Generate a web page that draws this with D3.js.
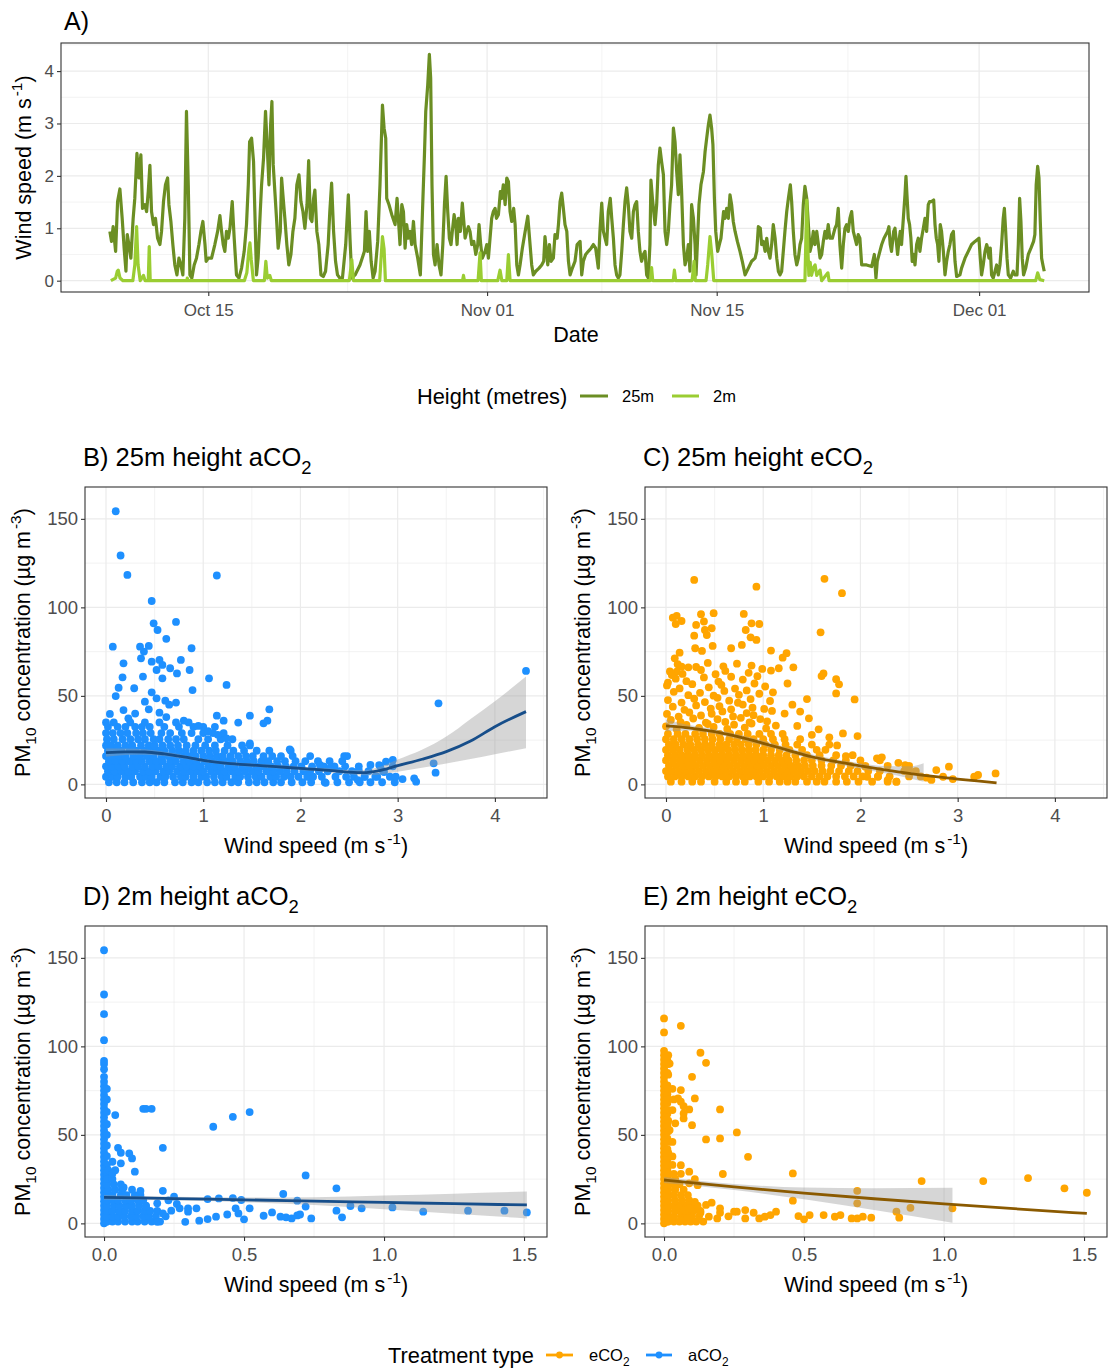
<!DOCTYPE html>
<html><head><meta charset="utf-8">
<script src="https://cdn.jsdelivr.net/npm/d3@7"></script>
<style>
body{margin:0;background:#fff;}
</style></head><body>
<svg id="chart" width="1108" height="1372"></svg>
<script>
// ---------- Panel A data: [days since Oct 01, wind speed m/s] ----------
const wind25m = [
[8.00,0.94],[8.10,0.75],[8.20,1.03],[8.35,0.56],[8.47,1.51],[8.61,1.75],[8.75,1.19],[8.87,0.62],[8.98,0.18],[9.06,0.88],[9.16,0.69],[9.28,0.43],[9.42,1.19],[9.52,1.57],[9.65,2.43],[9.77,1.96],[9.89,2.40],[9.99,1.38],[10.13,1.45],[10.24,1.32],[10.34,1.70],[10.44,2.20],[10.54,1.32],[10.66,1.07],[10.78,1.19],[10.91,0.81],[11.05,0.69],[11.15,0.94],[11.27,1.51],[11.39,1.83],[11.52,1.96],[11.60,1.45],[11.72,1.13],[11.84,0.69],[11.96,0.30],[12.09,0.11],[12.21,0.43],[12.33,0.30],[12.45,0.11],[12.57,1.19],[12.67,3.23],[12.78,1.83],[12.88,0.11],[13.00,0.05],[13.14,0.30],[13.28,0.43],[13.43,0.69],[13.55,0.94],[13.67,1.13],[13.80,0.69],[13.87,0.37],[14.00,0.43],[14.20,0.43],[14.40,0.69],[14.57,0.94],[14.71,1.24],[14.81,0.94],[14.91,0.69],[15.01,0.56],[15.11,0.94],[15.22,0.81],[15.32,1.00],[15.46,1.51],[15.58,0.81],[15.72,0.11],[15.87,0.05],[16.03,0.24],[16.19,0.56],[16.33,1.07],[16.44,1.83],[16.52,2.65],[16.64,2.72],[16.76,2.27],[16.84,1.32],[16.94,0.11],[17.04,0.43],[17.17,1.32],[17.25,1.83],[17.37,2.34],[17.49,3.23],[17.59,2.59],[17.70,1.83],[17.80,2.97],[17.88,3.42],[17.96,2.21],[18.06,1.70],[18.16,1.19],[18.26,0.62],[18.39,0.94],[18.47,1.96],[18.55,1.64],[18.67,1.19],[18.79,0.69],[18.91,0.30],[19.04,0.50],[19.16,0.94],[19.28,1.19],[19.40,1.83],[19.53,2.02],[19.65,1.51],[19.77,1.32],[19.89,1.00],[20.02,1.45],[20.12,2.29],[20.22,1.19],[20.32,1.13],[20.42,1.57],[20.50,1.73],[20.62,0.94],[20.74,0.69],[20.87,0.11],[21.01,0.08],[21.15,0.18],[21.31,0.69],[21.41,1.32],[21.52,1.86],[21.64,0.94],[21.76,0.37],[21.88,0.11],[22.02,0.05],
[22.18,0.05],[22.38,0.69],[22.54,1.64],[22.64,0.81],[22.75,0.05],[22.95,0.11],[23.25,0.30],[23.52,0.56],[23.62,1.32],[23.72,0.56],[23.82,0.94],[23.93,0.37],[24.05,0.05],[24.17,0.18],[24.33,0.75],[24.47,1.83],[24.62,3.35],[24.72,2.91],[24.82,2.72],[24.88,1.57],[25.02,1.45],[25.19,1.26],[25.39,1.07],[25.51,1.57],[25.59,1.19],[25.69,0.69],[25.80,1.45],[25.90,1.32],[26.00,0.62],[26.10,1.07],[26.20,0.81],[26.30,0.94],[26.40,0.69],[26.51,1.13],[26.61,0.69],[26.77,0.43],[26.93,0.11],[27.06,1.32],[27.18,2.40],[27.26,3.23],[27.38,3.73],[27.48,4.32],[27.56,3.86],[27.64,1.83],[27.73,0.50],[27.83,0.30],[27.95,0.69],[28.07,0.30],[28.19,0.11],[28.30,0.69],[28.40,1.45],[28.50,1.99],[28.60,1.32],[28.70,0.81],[28.80,0.69],[28.88,0.94],[28.99,1.26],[29.09,1.07],[29.17,0.69],[29.25,1.19],[29.37,0.94],[29.49,1.48],[29.58,1.13],[29.66,0.81],[29.76,0.94],[29.86,1.03],[29.96,0.94],[30.06,0.69],[30.19,0.75],[30.31,0.50],[30.43,0.69],[30.51,1.07],[30.61,0.69],[30.71,0.43],[30.88,0.56],[30.98,0.69],[31.08,0.43],[31.18,0.81],[31.28,1.19],[31.38,1.32],[31.49,1.38],[31.57,1.19],[31.69,1.26],[31.81,1.70],[31.89,1.57],[31.99,1.83],[32.10,1.45],[32.20,1.96],[32.30,1.89],[32.40,1.32],[32.50,1.13],[32.62,1.38],[32.71,1.07],[32.81,0.30],[32.91,0.11],[33.01,0.30],[33.15,0.62],[33.32,0.94],[33.48,1.23],[33.62,0.69],[33.72,0.30],[33.82,0.11],[33.97,0.18],[34.17,0.24],[34.33,0.30],[34.45,0.37],[34.53,0.84],[34.62,0.56],[34.70,0.30],[34.80,0.69],[34.90,0.37],[35.04,0.43],[35.14,0.88],[35.27,0.81],[35.35,1.07],[35.45,1.51],[35.55,1.67],[35.65,1.38],[35.75,1.07],[35.86,0.94],[35.96,0.37],[36.06,0.11],[36.20,0.24],[36.36,0.37],[36.49,0.69],[36.67,0.75],
[36.77,0.11],[36.87,0.37],[37.01,0.50],[37.17,0.56],[37.34,0.62],[37.48,0.69],[37.62,0.62],[37.70,0.43],[37.78,0.24],[37.88,0.94],[37.99,1.48],[38.09,0.94],[38.19,0.81],[38.29,0.69],[38.39,1.32],[38.51,1.57],[38.60,1.19],[38.70,0.81],[38.80,0.30],[38.90,0.11],[39.00,0.05],[39.10,0.11],[39.21,0.56],[39.31,1.07],[39.41,1.51],[39.51,1.77],[39.61,1.45],[39.71,0.94],[39.82,0.81],[39.92,1.32],[40.02,1.45],[40.12,1.51],[40.22,0.94],[40.32,0.56],[40.42,0.37],[40.53,0.50],[40.63,0.56],[40.73,0.11],[40.83,0.05],[40.93,0.69],[40.99,1.92],[41.08,1.57],[41.16,1.32],[41.24,1.07],[41.34,1.45],[41.44,2.21],[41.54,2.53],[41.64,2.27],[41.75,2.02],[41.85,0.94],[41.95,0.69],[42.05,0.94],[42.15,1.45],[42.25,1.83],[42.36,2.91],[42.46,2.65],[42.56,2.08],[42.66,1.64],[42.76,2.40],[42.86,1.70],[42.97,0.69],[43.07,0.30],[43.17,0.43],[43.27,0.69],[43.37,0.18],[43.47,1.45],[43.58,1.19],[43.68,0.69],[43.74,0.11],[43.82,0.69],[43.92,1.45],[44.04,1.83],[44.19,2.08],[44.29,2.46],[44.39,2.72],[44.49,2.97],[44.59,3.16],[44.69,2.91],[44.77,2.59],[44.86,1.57],[44.94,0.94],[45.06,0.56],[45.16,0.69],[45.26,0.81],[45.34,1.07],[45.42,1.32],[45.51,1.19],[45.61,1.38],[45.71,1.19],[45.81,1.64],[45.91,1.45],[46.01,1.13],[46.12,0.94],[46.26,0.75],[46.42,0.56],[46.56,0.37],[46.73,0.11],[46.93,0.24],[47.13,0.37],[47.34,0.43],[47.44,0.56],[47.54,1.03],[47.66,1.00],[47.74,0.69],[47.84,0.75],[47.95,0.56],[48.05,0.81],[48.15,0.56],[48.25,0.43],[48.35,0.69],[48.45,1.07],[48.56,0.81],[48.66,0.43],[48.76,0.18],[48.86,0.11],[48.96,0.18],[49.06,0.56],[49.16,0.94],[49.27,1.32],[49.37,1.57],[49.49,1.83],[49.57,1.51],[49.67,0.94],[49.77,0.50],[49.88,0.30],[49.98,0.43],[50.08,0.69],[50.18,0.81],[50.28,1.45],[50.38,1.80],[50.49,1.57],[50.59,1.07],[50.69,0.56],[50.79,0.69],[50.89,0.94],[50.99,0.69],[51.10,0.94],[51.20,0.69],[51.30,0.43],
[51.40,0.50],[51.50,0.75],[51.60,0.94],[51.70,0.81],[51.80,1.07],[51.90,0.81],[52.05,0.81],[52.21,1.00],[52.31,1.07],[52.41,1.38],[52.51,0.69],[52.62,0.24],[52.72,0.69],[52.82,1.00],[52.92,1.07],[53.02,0.94],[53.12,1.19],[53.23,1.32],[53.33,0.94],[53.43,0.81],[53.53,0.69],[53.63,0.88],[53.73,0.81],[53.84,0.30],[54.14,0.30],[54.45,0.27],[54.61,0.50],[54.71,0.05],[54.79,0.37],[54.95,0.56],[55.06,0.69],[55.20,0.81],[55.32,0.88],[55.42,0.94],[55.50,1.03],[55.58,0.69],[55.66,0.56],[55.79,0.94],[55.87,1.00],[55.95,0.75],[56.03,0.50],[56.11,0.75],[56.19,0.94],[56.27,0.69],[56.38,1.19],[56.48,1.64],[56.54,1.99],[56.60,1.64],[56.68,1.19],[56.76,1.07],[56.84,0.81],[56.92,0.37],[57.01,0.50],[57.09,0.30],[57.19,0.69],[57.29,0.81],[57.39,0.56],[57.49,0.81],[57.60,1.00],[57.70,1.19],[57.80,0.94],[57.90,1.45],[57.98,1.51],[58.10,1.51],[58.23,1.54],[58.31,1.07],[58.39,0.81],[58.47,0.69],[58.55,0.37],[58.63,1.07],[58.71,0.94],[58.82,0.56],[58.92,0.11],[59.02,0.37],[59.12,0.56],[59.22,0.69],[59.32,0.88],[59.43,0.94],[59.53,0.37],[59.63,0.08],[59.83,0.11],[59.93,0.24],[60.14,0.43],[60.34,0.56],[60.54,0.69],[60.75,0.75],[60.99,0.81],[61.07,0.43],[61.15,0.11],[61.25,0.30],[61.36,0.56],[61.46,0.69],[61.52,0.62],[61.60,0.43],[61.68,0.62],[61.76,0.11],[61.86,0.05],[61.97,0.18],[62.07,0.30],[62.17,0.11],[62.27,0.30],[62.37,0.69],[62.47,1.19],[62.54,1.38],[62.62,0.94],[62.70,0.43],[62.78,0.11],[62.92,0.05],[63.08,0.18],[63.18,0.11],[63.31,0.11],[63.39,0.69],[63.47,1.57],[63.55,1.13],[63.63,0.43],[63.71,0.11],[63.84,0.24],[64.00,0.50],[64.16,0.62],[64.32,0.75],[64.40,0.88],[64.48,1.83],[64.57,2.18],[64.65,1.96],[64.73,1.13],[64.81,0.43],[64.89,0.30],[64.97,0.18]
];
const wind2m = [
[8.06,0],[8.35,0.05],[8.45,0.18],[8.51,0.2],[8.62,0.05],[8.8,0],[9.4,0],[9.52,0.3],[9.63,1.03],[9.72,0.3],[9.85,0],[10.05,0.1],[10.15,0],[10.34,0],[10.40,0.65],[10.46,0],[12.7,0],[12.72,0.05],[12.76,0],[16.2,0],[16.35,0.15],[16.48,0.6],[16.54,0.72],[16.62,0.4],[16.75,0],[17.42,0],[17.51,0.37],[17.6,0.05],[17.75,0.1],[17.85,0],[22.6,0],[22.75,0.4],[22.85,0],[24.45,0],[24.55,0.5],[24.62,0.84],[24.72,0.6],[24.8,0],[29.5,0],[29.56,0.1],[29.62,0],[30.45,0],[30.57,0.53],[30.65,0],[31.65,0],[31.79,0.2],[31.9,0],[32.2,0],[32.3,0.5],[32.4,0],[40.95,0],[41.03,0.25],[41.1,0],[42.35,0],[42.42,0.2],[42.5,0],[43.5,0],[43.62,0.37],[43.7,0],[44.35,0],[44.45,0.3],[44.59,0.84],[44.7,0.5],[44.82,0],[50.38,0],[50.49,1.54],[50.56,0.6],[50.62,0.1],[50.7,0.35],[50.78,0.1],[50.9,0.25],[51.0,0.3],[51.1,0.1],[51.3,0.2],[51.4,0],[51.78,0.15],[51.85,0],[64.45,0],[64.57,0.15],[64.7,0.02],[64.97,0]
];
const dateTicks = ["2019-10-15","2019-11-01","2019-11-15","2019-12-01"];
const dateMinor = ["2019-10-23T12:00","2019-11-08","2019-11-23"];
const windTicks = [0,1,2,3,4];
const windMinor = [0.5,1.5,2.5,3.5,4.5];

// ---------- Scatter data (rows: [PM10, [wind speeds]]; extra: [wind, PM10]) ----------
const denseB = [
[1.2,[0.03,0.11,0.19,0.28,0.37,0.45,0.52,0.6,0.71,0.79,0.88,0.95,1.04,1.12,1.2,1.29,1.36,1.47,1.55,1.63,1.72,1.8,1.91,2.02,2.11,2.25,2.38,2.5,2.61,2.72,2.84,2.97]],
[4.3,[0,0.07,0.12,0.2,0.26,0.35,0.41,0.47,0.56,0.61,0.69,0.77,0.82,0.9,0.98,1.03,1.11,1.19,1.24,1.33,1.38,1.46,1.54,1.6,1.69,1.75,1.83,1.9,1.98,2.07,2.13,2.22,2.36,2.47,2.55,2.66,2.79,2.92]],
[7.4,[0.02,0.09,0.16,0.23,0.3,0.38,0.44,0.51,0.59,0.65,0.73,0.8,0.87,0.94,1.0,1.08,1.15,1.22,1.29,1.36,1.43,1.5,1.57,1.65,1.72,1.79,1.86,1.94,2.03,2.1,2.19,2.28,2.4,2.53,2.7,2.85]],
[10.2,[0,0.06,0.13,0.19,0.27,0.33,0.4,0.48,0.54,0.62,0.68,0.76,0.83,0.9,0.97,1.05,1.12,1.18,1.26,1.32,1.4,1.47,1.55,1.62,1.7,1.77,1.85,1.93,2.01,2.12,2.24,2.35,2.46,2.6,2.82,2.95]],
[13.1,[0.03,0.1,0.17,0.24,0.31,0.37,0.45,0.52,0.58,0.66,0.72,0.8,0.86,0.93,1.01,1.09,1.16,1.23,1.3,1.38,1.45,1.52,1.6,1.67,1.76,1.84,1.95,2.05,2.18,2.3,2.43]],
[16.0,[0,0.07,0.14,0.2,0.28,0.35,0.42,0.49,0.57,0.64,0.7,0.78,0.85,0.92,1.0,1.07,1.14,1.2,1.28,1.36,1.44,1.51,1.62,1.71,1.8,1.92,2.1,2.45]],
[19.0,[0.02,0.09,0.16,0.24,0.31,0.39,0.46,0.53,0.6,0.68,0.75,0.82,0.9,0.98,1.06,1.13,1.22,1.31,1.42,1.55,1.68,1.9]],
[22.0,[0,0.05,0.12,0.2,0.27,0.36,0.44,0.5,0.58,0.66,0.74,0.83,0.92,1.02,1.12,1.25,1.4,1.48]],
[25.5,[0.01,0.08,0.17,0.25,0.33,0.4,0.49,0.55,0.64,0.72,0.8,0.95,1.05,1.18,1.3]],
[29.0,[0,0.07,0.15,0.22,0.31,0.38,0.46,0.57,0.66,0.78,0.88,1.0,1.1,1.21]],
[32.5,[0.02,0.12,0.2,0.3,0.37,0.45,0.6,0.75,0.9,1.0,1.12]],
[35.0,[0,0.08,0.25,0.4,0.55,0.72,0.85]]
];
const extraB = [[0.10,154.3],[0.15,129.3],[0.22,118.3],[1.14,118],[0.47,103.6],[0.72,91.8],[0.49,91],[0.53,87.2],[0.62,82.2],[0.07,77.8],[0.35,77.8],[0.88,76.9],[0.44,78.2],[0.39,75],[0.36,71.2],[0.55,70.3],[0.77,70.3],[0.18,68.4],[0.47,69.3],[0.58,67.5],[0.66,65.6],[0.52,64.6],[0.86,64.6],[0.73,62.7],[0.17,60.5],[0.58,59.9],[1.06,59.9],[0.38,60.9],[0.13,54.6],[0.29,54.3],[1.24,56.2],[0.89,53.3],[0.10,49.9],[0.52,48.6],[0.61,47.3],[0.72,46.2],[3.42,45.8],[4.32,64.1],[0.18,42],[0.40,46.7],[0.44,42.4],[1.68,42.4],[0.04,39.8],[0.55,40.5],[1.14,38.8],[1.48,38.8],[0.23,37.3],[1.21,36],[1.66,36],[1.36,34.9],[1.62,34.5],[3.37,11.9],[3.39,6.6],[3.17,3.4],[3.19,1.5],[2.98,4.3],[2.95,13.8],[2.88,12.8],[2.81,10.9],[2.77,4.3],[2.66,4.3],[2.59,2.4],[2.48,16],[2.26,0.9],[1.89,19.8],[1.48,23.2],[1.24,26],[0.3,40],[0.62,38],[0.8,36],[0.95,33],[1.05,30],[1.15,28],[0.47,52],[0.65,45],[2.2,11],[2.3,9],[2.6,8],[2.72,11],[2.86,7],[3.05,3]];

const denseC = [
[1.5,[0.05,0.16,0.27,0.36,0.5,0.62,0.72,0.81,0.95,1.06,1.17,1.25,1.33,1.45,1.55,1.63,1.75,1.86,1.98,2.12,2.28,2.37]],
[4.5,[0.02,0.09,0.16,0.23,0.3,0.37,0.44,0.51,0.58,0.65,0.72,0.79,0.86,0.93,1.0,1.07,1.14,1.21,1.28,1.35,1.42,1.5,1.58,1.66,1.75,1.84,1.93,2.02,2.18,2.3,2.5,2.62]],
[7.5,[0,0.06,0.13,0.2,0.27,0.34,0.41,0.48,0.55,0.62,0.69,0.76,0.83,0.9,0.97,1.04,1.11,1.18,1.25,1.32,1.39,1.46,1.53,1.61,1.69,1.78,1.88,1.97,2.08,2.2,2.45,2.57]],
[10.5,[0.03,0.1,0.17,0.24,0.31,0.38,0.45,0.52,0.59,0.66,0.73,0.8,0.87,0.94,1.01,1.08,1.15,1.22,1.29,1.36,1.43,1.51,1.6,1.7,1.8,1.9,2.05,2.28,2.5]],
[13.5,[0,0.07,0.14,0.21,0.28,0.35,0.42,0.49,0.56,0.63,0.7,0.77,0.84,0.91,0.98,1.05,1.12,1.19,1.26,1.34,1.42,1.5,1.6,1.72,1.85,2.0,2.2]],
[16.5,[0.02,0.09,0.16,0.23,0.3,0.37,0.44,0.51,0.58,0.65,0.72,0.79,0.86,0.93,1.0,1.08,1.16,1.24,1.33,1.45,1.58,1.75,1.92]],
[19.5,[0,0.07,0.14,0.22,0.29,0.36,0.43,0.5,0.57,0.64,0.71,0.78,0.85,0.92,1.0,1.08,1.17,1.27,1.4,1.55,1.64]],
[22.5,[0.03,0.1,0.18,0.25,0.33,0.4,0.47,0.55,0.62,0.7,0.77,0.85,0.93,1.02,1.12,1.23,1.35,1.5,1.68]],
[25.5,[0,0.08,0.16,0.24,0.32,0.4,0.48,0.56,0.65,0.73,0.82,0.9,1.0,1.1,1.22,1.38]],
[28.5,[0.02,0.12,0.2,0.3,0.38,0.47,0.55,0.66,0.75,0.84,0.96,1.08,1.2]]
];
// upper, looser part of panel C as individual [wind, PM10] readings
const looseC = [
[0,32.8],[0.11,31.2],[0.21,33.6],[0.34,31.9],[0.43,34.1],[0.49,32.4],[0.63,31.3],[0.7,33.7],[0.81,32.1],[0.88,34.4],[1.03,31.6],[1.13,33.2],
[0.05,36.4],[0.15,35.1],[0.28,37.2],[0.41,34.9],[0.53,36.8],[0.61,35.3],[0.77,37.6],[0.86,35.0],[0.97,36.9],[1.04,35.6],
[0.01,39.8],[0.13,38.3],[0.24,40.6],[0.36,38.9],[0.47,39.9],[0.58,41.2],[0.69,38.4],[0.83,40.3],[0.9,39.1],[1.09,41.5],
[0.07,43.9],[0.19,42.1],[0.31,44.6],[0.46,42.8],[0.55,44.2],[0.67,42.4],[0.79,45.1],[0.89,43.3],[1.01,42.6],
[0.02,47.6],[0.16,46.2],[0.29,48.4],[0.4,46.5],[0.53,48.9],[0.65,47.3],[0.74,46.1],[0.87,48.2],[1.07,47.1],
[0.08,52.3],[0.23,50.4],[0.35,51.7],[0.49,50.1],[0.6,52.8],[0.75,50.6],[0.83,53.1],[0.96,51.2],
[0.01,55.9],[0.14,54.2],[0.27,56.6],[0.44,54.8],[0.57,56.2],[0.71,54.1],[0.91,57.0],[1.02,55.3],
[0.1,59.7],[0.21,58.3],[0.39,60.4],[0.54,58.1],[0.67,60.8],[0.79,59.2],[0.94,61.1],
[0.04,63.8],[0.17,62.4],[0.36,64.6],[0.51,62.2],[0.61,64.1],[0.85,63.0],[0.99,65.2],
[0.12,67.9],[0.31,66.3],[0.43,68.6],[0.59,66.7],[0.73,68.2],[0.88,67.1]
];
const extraC = [[0.29,115.5],[0.93,111.7],[1.63,116.1],[1.81,108],[0.07,94.2],[0.11,95.2],[0.10,90.6],[0.16,92.3],[0.36,96.1],[0.39,92],[0.49,96.7],[0.80,96.3],[0.31,90.1],[0.40,87.2],[0.47,88.2],[0.42,84.4],[0.88,91],[0.96,90.6],[0.82,87.2],[0.87,83.1],[0.93,81.6],[0.29,84],[1.59,85.9],[0.30,76.9],[0.37,75.4],[0.67,76.9],[0.48,78.2],[0.78,78.8],[0.14,74.4],[0.09,71.2],[0.16,66.5],[0.23,66.1],[0.11,63.7],[0.06,61.8],[0.02,57.5],[1.08,75.6],[1.20,71.6],[1.24,74.1],[1.16,65.6],[1.31,66.1],[1.08,64.3],[1.60,61.2],[1.62,62.7],[1.75,59.4],[1.78,56.5],[1.75,51.4],[1.94,48],[1.45,48.2],[1.47,37.3],[1.38,41.1],[1.97,27.3],[1.82,28.8],[1.68,26.6],[1.57,31.1],[2.91,10],[2.78,8.1],[3.21,5.3],[3.39,6.2],[3.17,4.3],[2.85,4.3],[2.68,3.8],[2.95,3],[2.73,2.5],[2.17,14.7],[2.22,15.3],[2.39,12.2],[2.46,10.9],[2.5,8.5],[2.28,2.4],[2.37,1.5],[2.18,4.3],[2.07,4.3],[1.25,57],[1.1,52],[1.3,45],[1.22,40],[1.35,33],[1.5,28],[1.76,22],[1.85,16],[2.05,10]];

const colD = [
[0,[0,2.5,5,7.5,10,12.5,15,17.5,20,22.5,25,27.5,30,32.5,35,37.5,40,42.5,45,47.5,50,52.5,55,57.5,60,62.5,65,67.5,70,72.5,75,77.5,80,82.8,87.1,90,91.8,103.5,118.2,129.3,154.3]],
[0.01,[1,4,8,13,18,23,28,33,38,44,50,56,63,70,76]]
];
const denseD = [
[1,[0.01,0.03,0.05,0.075,0.1,0.12,0.145,0.17,0.2]],
[4,[0.01,0.03,0.05,0.07,0.095,0.115,0.14,0.16,0.185,0.22]],
[7,[0.01,0.03,0.055,0.075,0.1,0.12,0.145,0.165,0.19]],
[10,[0.01,0.035,0.055,0.08,0.1,0.125,0.15]],
[13,[0.01,0.03,0.05,0.075,0.095,0.12,0.14]],
[16,[0.01,0.03,0.06,0.08,0.11,0.13]],
[19,[0.015,0.04,0.065,0.1]],
[22,[0.01,0.035,0.06]],
[25,[0.01,0.03]],
[30,[0.015,0.04]]
];
const extraD = [[0.14,64.7],[0.15,64.7],[0.17,64.7],[0.04,61.2],[0.46,60.2],[0.52,62.9],[0.39,54.6],[0.21,42.7],[0.05,42.7],[0.06,39.9],[0.09,39.5],[0.10,36.7],[0.03,34.8],[0.06,33.9],[0.11,29.2],[0.03,28.2],[0.72,27.1],[0.83,19.8],[0.21,18.4],[0.07,20.3],[0.13,18.4],[0.25,15.1],[0.64,16.6],[0.69,12.8],[0.41,14.1],[0.37,13.7],[0.46,14.3],[0.49,13.2],[1.14,6.6],[1.03,9],[0.92,8.5],[0.88,9.8],[1.30,7.2],[1.43,7.2],[1.51,6.2],[0.83,7.2],[0.85,3.4],[0.57,4.3],[0.6,6.2],[0.63,3.8],[0.65,3.4],[0.67,2.8],[0.69,4.5],[0.74,2.8],[0.50,2.3],[0.52,8.5],[0.48,5.6],[0.47,8.5],[0.34,1.5],[0.29,0.9],[0.19,0.9],[0.37,2.4],[0.40,3.8],[0.30,8.5],[0.33,8.5],[0.27,8.5],[0.30,6.6],[0.24,7.2],[0.15,9.4],[0.21,5.6],[0.19,11.3],[0.7,5],[0.72,9.5],[0.44,5],[0.26,11],[0.23,13]];

const colE = [
[0,[0,2.5,5,7.5,10,12.5,15,17.5,20,22.5,25,27.5,30,32.5,35,37.5,40,42.5,45,47.5,50,52.5,55,57.5,60,62.5,65,67.5,70,72.5,75,77.5,80,82.5,85,87.5,90,92.5,95,97.5,107.9,115.8]],
[0.012,[1,5,9,14,19,24,30,36,42,48,55,62,68,73,78,85,92]]
];
const denseE = [
[1,[0.015,0.035,0.055,0.075,0.095,0.115,0.14]],
[4,[0.015,0.035,0.06,0.08,0.1,0.125]],
[7,[0.015,0.04,0.06,0.085,0.105,0.13]],
[10,[0.015,0.035,0.055,0.08,0.1,0.12]],
[13,[0.015,0.04,0.065,0.09]],
[16,[0.015,0.035,0.06,0.085]],
[19,[0.015,0.04,0.07]],
[22,[0.015,0.035,0.055]],
[25,[0.015,0.04]],
[28,[0.015,0.035,0.06]],
[33,[0.015,0.03]],
[40,[0.015]],
[46,[0.015,0.03]],
[52,[0.015]],
[58,[0.015]],
[64,[0.015,0.03]],
[70,[0.015,0.035]],
[76,[0.015,0.03]],
[84,[0.015]],
[90,[0.015]],
[95,[0.015]]
];
const extraE = [[0.06,111.6],[0.13,96.4],[0.15,90.7],[0.02,90.3],[0.10,82.8],[0.06,75.3],[0.11,70.6],[0.09,64.4],[0.20,64.4],[0.05,70.6],[0.06,68.7],[0.07,66.2],[0.07,62.1],[0.07,59.3],[0.04,56.5],[0.10,55.5],[0.02,52.7],[0.26,51.4],[0.15,47.4],[0.20,48],[0.30,37.6],[0.03,37.8],[0.06,32.9],[0.09,29.2],[0.21,27.9],[0.46,28.2],[0.92,23.9],[1.14,23.9],[1.30,25.6],[1.43,19.8],[1.51,17.3],[0.69,18.4],[0.69,11.3],[0.46,12.8],[0.88,8.8],[1.03,8.5],[0.83,6.6],[0.84,3.2],[0.74,3.2],[0.71,3.8],[0.69,2.8],[0.67,2.8],[0.63,4.7],[0.61,3.8],[0.57,4.7],[0.52,4.7],[0.50,2.3],[0.48,4.1],[0.40,6.6],[0.38,4.7],[0.36,3.8],[0.34,2.8],[0.32,6],[0.29,7.5],[0.29,2.8],[0.26,6.6],[0.25,6.6],[0.20,8.5],[0.19,2.8],[0.16,3.8],[0.17,11.7],[0.15,10.4],[0.11,12.2],[0.12,21.6],[0.09,22.6],[0.11,25],[0.06,1.9],[0.07,7.5],[0.09,8.5],[0.2,6],[0.23,4],[0.13,6]];

// ---------- Smoothers ----------
const fitBx = [0,0.2,0.4,0.6,0.8,1,1.25,1.5,1.75,2,2.25,2.5,2.65,2.8,3,3.25,3.5,3.75,4,4.32];
const fitBy = [17.9,18.4,18.3,17.2,15.5,13.6,11.9,10.9,10.0,9.0,8.1,6.9,6.6,7.6,10.6,14.2,18.5,24.5,32.6,41.1];
const bandBlo = [15.6,16.6,16.8,16.0,14.5,12.7,11.0,10.0,9.1,8.0,7.0,5.7,5.1,5.5,7.2,9.4,11.8,14.3,17.0,20.4];
const bandBhi = [20.2,20.2,19.8,18.4,16.5,14.5,12.8,11.8,10.9,10.0,9.2,8.1,8.1,9.7,14.0,19.5,27.0,37.0,47.0,60.9];
const fitCx = [0,0.25,0.5,0.75,1,1.25,1.5,1.75,2,2.25,2.5,2.75,3,3.2,3.4];
const fitCy = [33,31.8,29.8,26.8,23.2,19.4,15.6,12.8,10.4,8.2,6.2,4.5,3.0,2.0,0.9];
const bandCx = [0,0.25,0.5,0.75,1,1.25,1.5,1.75,2,2.25,2.5,2.65];
const bandClo = [30,30.3,28.4,25.4,21.8,18.0,14.2,11.4,8.8,6.3,3.5,1.5];
const bandChi = [36.5,33.4,31.2,28.2,24.6,20.8,17.0,14.2,12.0,10.4,10.2,12.0];
const fitDx = [0,0.25,0.5,0.75,1,1.25,1.51];
const fitDy = [14.7,14.0,13.3,12.6,11.85,11.1,10.4];
const bandDlo = [13.4,13.0,12.0,10.4,8.0,5.5,2.8];
const bandDhi = [16.0,15.0,14.6,14.8,15.7,16.8,18.0];
const fitEx = [0,0.25,0.5,0.75,1,1.25,1.51];
const fitEy = [24.5,20.6,17.1,13.9,11.0,8.3,5.6];
const bandEx = [0,0.25,0.5,0.75,1.03];
const bandElo = [22.8,18.9,13.6,7.6,0.4];
const bandEhi = [26.2,22.3,20.2,19.9,20.1];

const pmTicks = [0,50,100,150];
const pmMinor = [25,75,125];
const ws25Ticks = [0,1,2,3,4];
const ws25Minor = [0.5,1.5,2.5,3.5,4.5];
const ws2Ticks = [0,0.5,1.0,1.5];
const ws2Minor = [0.25,0.75,1.25];

// ---------- Drawing ----------
const FONT = "'Liberation Sans', Arial, sans-serif";
const svg = d3.select("#chart").attr("font-family", FONT);
const T0 = Date.UTC(2019, 9, 1);
const toDate = d => new Date(T0 + d * 864e5);
const GRID = "#EBEBEB";

function rich(parent, parts, fs) {
  const t = parent.append("text").attr("font-size", fs);
  let cur = 0;
  parts.forEach(([s, k]) => {
    const target = k === "sub" ? 0.3 * fs : k === "sup" ? -0.42 * fs : 0;
    const ts = t.append("tspan").attr("dy", target - cur).attr("font-size", k ? fs * 0.72 : fs).text(s);
    if (k === "sup") ts.attr("dx", 2);
    cur = target;
  });
  return t;
}

function frame(x, y, o) {
  const [L, R] = x.range(), [B, T] = y.range();
  const g = svg.append("g");
  g.append("rect").attr("x", L).attr("y", T).attr("width", R - L).attr("height", B - T).attr("fill", "#fff");
  o.xMinor.forEach(v => g.append("line").attr("x1", x(v)).attr("x2", x(v)).attr("y1", T).attr("y2", B).attr("stroke", GRID).attr("stroke-width", 0.6));
  o.yMinor.forEach(v => g.append("line").attr("y1", y(v)).attr("y2", y(v)).attr("x1", L).attr("x2", R).attr("stroke", GRID).attr("stroke-width", 0.6));
  o.xMajor.forEach(v => g.append("line").attr("x1", x(v)).attr("x2", x(v)).attr("y1", T).attr("y2", B).attr("stroke", GRID).attr("stroke-width", 1.2));
  o.yMajor.forEach(v => g.append("line").attr("y1", y(v)).attr("y2", y(v)).attr("x1", L).attr("x2", R).attr("stroke", GRID).attr("stroke-width", 1.2));
  const id = "clip" + Math.round(L) + "_" + Math.round(T);
  svg.append("clipPath").attr("id", id).append("rect").attr("x", L).attr("y", T).attr("width", R - L).attr("height", B - T);
  return svg.append("g").attr("clip-path", `url(#${id})`);
}

function axes(x, y, o) {
  const [L, R] = x.range(), [B, T] = y.range();
  const fs = o.fs || 17;
  const ax = svg.append("g").attr("transform", `translate(0,${B})`)
    .call(d3.axisBottom(x).tickValues(o.xMajor).tickFormat(o.xFmt).tickSize(4).tickPadding(fs > 17 ? 7 : 8));
  const ay = svg.append("g").attr("transform", `translate(${L},0)`)
    .call(d3.axisLeft(y).tickValues(o.yMajor).tickFormat(o.yFmt).tickSize(4).tickPadding(3));
  [ax, ay].forEach(a => {
    a.select(".domain").remove();
    a.attr("font-family", FONT).attr("font-size", fs);
    a.selectAll(".tick line").attr("stroke", "#333").attr("stroke-width", 1.1);
    a.selectAll(".tick text").attr("fill", "#4D4D4D");
  });
  svg.append("rect").attr("x", L).attr("y", T).attr("width", R - L).attr("height", B - T)
    .attr("fill", "none").attr("stroke", "#333").attr("stroke-width", 1.1);
}

// ---- Panel A ----
const xA = d3.scaleUtc().domain([toDate(5.02), toDate(67.70)]).range([61, 1089]);
const yA = d3.scaleLinear().domain([-0.216, 4.536]).range([292, 43]);
const parseT = s => new Date(s + (s.length > 10 ? ":00Z" : "T00:00:00Z"));
const gA = frame(xA, yA, {xMajor: dateTicks.map(parseT), xMinor: dateMinor.map(parseT), yMajor: windTicks, yMinor: windMinor});
const lineA = d3.line().x(d => xA(toDate(d[0]))).y(d => yA(d[1]));
gA.append("path").datum(wind25m).attr("d", lineA).attr("fill", "none").attr("stroke", "#6B8E23").attr("stroke-width", 3.2).attr("stroke-linejoin", "round");
gA.append("path").datum(wind2m).attr("d", lineA).attr("fill", "none").attr("stroke", "#9ACD32").attr("stroke-width", 3.2).attr("stroke-linejoin", "round");
axes(xA, yA, {xMajor: dateTicks.map(parseT), yMajor: windTicks, xFmt: d3.utcFormat("%b %d"), yFmt: d3.format("d")});
svg.append("text").attr("x", 64).attr("y", 30).attr("font-size", 25).text("A)");
rich(svg.append("g").attr("transform", "translate(31,167.5) rotate(-90)"), [["Wind speed (m s"], ["-1", "sup"], [")"]], 21.5).attr("text-anchor", "middle");
svg.append("text").attr("x", 576).attr("y", 342).attr("text-anchor", "middle").attr("font-size", 21.5).text("Date");

// legend A
svg.append("text").attr("x", 417).attr("y", 404).attr("font-size", 21.8).text("Height (metres)");
svg.append("line").attr("x1", 580).attr("x2", 608).attr("y1", 396).attr("y2", 396).attr("stroke", "#6B8E23").attr("stroke-width", 3);
svg.append("text").attr("x", 622).attr("y", 402).attr("font-size", 16.5).text("25m");
svg.append("line").attr("x1", 672).attr("x2", 699).attr("y1", 396).attr("y2", 396).attr("stroke", "#9ACD32").attr("stroke-width", 3);
svg.append("text").attr("x", 713).attr("y", 402).attr("font-size", 16.5).text("2m");

// ---- Scatter panels ----
const rowsToPts = rows => rows.flatMap(([y, xs]) => xs.map(x => [x, y]));
const colsToPts = cols => cols.flatMap(([x, ys]) => ys.map(y => [x, y]));

function scatter(o) {
  const x = d3.scaleLinear().domain(o.xDom).range([o.L, o.L + 462]);
  const y = d3.scaleLinear().domain([-7.7, 168]).range([o.T + 311, o.T]);
  const g = frame(x, y, {xMajor: o.xTicks, xMinor: o.xMinor, yMajor: pmTicks, yMinor: pmMinor});
  g.selectAll("circle.pt").data(o.points).join("circle")
    .attr("cx", d => x(d[0])).attr("cy", d => y(d[1])).attr("r", 3.9).attr("fill", o.color);
  const band = o.bandX.map((v, i) => [v, o.bandLo[i], o.bandHi[i]]);
  g.append("path").datum(band)
    .attr("d", d3.area().x(d => x(d[0])).y0(d => y(d[1])).y1(d => y(d[2])).curve(d3.curveMonotoneX))
    .attr("fill", "#999999").attr("fill-opacity", 0.4);
  g.append("path").datum(o.fitX.map((v, i) => [v, o.fitY[i]]))
    .attr("d", d3.line().x(d => x(d[0])).y(d => y(d[1])).curve(d3.curveMonotoneX))
    .attr("fill", "none").attr("stroke", o.lineColor).attr("stroke-width", 2.8);
  axes(x, y, {xMajor: o.xTicks, yMajor: pmTicks, xFmt: o.xFmt, yFmt: d3.format("d"), fs: 18.5});
  rich(svg.append("g").attr("transform", `translate(${o.L - 2},${o.T - 21})`), o.title, 25.5);
  rich(svg.append("g").attr("transform", `translate(${o.L - 55},${o.T + 155.5}) rotate(-90)`),
    [["PM"], ["10", "sub"], [" concentration (µg m"], ["-3", "sup"], [")"]], 21.5).attr("text-anchor", "middle");
  rich(svg.append("g").attr("transform", `translate(${o.L + 231},${o.T + 366})`),
    [["Wind speed (m s"], ["-1", "sup"], [")"]], 21.5).attr("text-anchor", "middle");
}

const blue = "#1E90FF", orange = "#FFA500";
scatter({L: 85, T: 487, xDom: [-0.216, 4.536], xTicks: ws25Ticks, xMinor: ws25Minor, xFmt: d3.format("d"),
  points: rowsToPts(denseB).concat(extraB), color: blue, lineColor: "#174E8A",
  fitX: fitBx, fitY: fitBy, bandX: fitBx, bandLo: bandBlo, bandHi: bandBhi,
  title: [["B) 25m height aCO"], ["2", "sub"]]});
scatter({L: 645, T: 487, xDom: [-0.216, 4.536], xTicks: ws25Ticks, xMinor: ws25Minor, xFmt: d3.format("d"),
  points: rowsToPts(denseC).concat(looseC, extraC), color: orange, lineColor: "#8B5A00",
  fitX: fitCx, fitY: fitCy, bandX: bandCx, bandLo: bandClo, bandHi: bandChi,
  title: [["C) 25m height eCO"], ["2", "sub"]]});
scatter({L: 85, T: 926, xDom: [-0.068, 1.582], xTicks: ws2Ticks, xMinor: ws2Minor, xFmt: d3.format(".1f"),
  points: colsToPts(colD).concat(rowsToPts(denseD), extraD), color: blue, lineColor: "#174E8A",
  fitX: fitDx, fitY: fitDy, bandX: fitDx, bandLo: bandDlo, bandHi: bandDhi,
  title: [["D) 2m height aCO"], ["2", "sub"]]});
scatter({L: 645, T: 926, xDom: [-0.068, 1.582], xTicks: ws2Ticks, xMinor: ws2Minor, xFmt: d3.format(".1f"),
  points: colsToPts(colE).concat(rowsToPts(denseE), extraE), color: orange, lineColor: "#8B5A00",
  fitX: fitEx, fitY: fitEy, bandX: bandEx, bandLo: bandElo, bandHi: bandEhi,
  title: [["E) 2m height eCO"], ["2", "sub"]]});

// legend bottom
svg.append("text").attr("x", 388).attr("y", 1363).attr("font-size", 21.8).text("Treatment type");
[[546, 573, orange, 589, "eCO"], [646, 672, blue, 688, "aCO"]].forEach(([a, b, c, tx, lab]) => {
  svg.append("line").attr("x1", a).attr("x2", b).attr("y1", 1355).attr("y2", 1355).attr("stroke", c).attr("stroke-width", 2.8);
  svg.append("circle").attr("cx", (a + b) / 2).attr("cy", 1355).attr("r", 3.4).attr("fill", c);
  rich(svg.append("g").attr("transform", `translate(${tx},1361)`), [[lab], ["2", "sub"]], 16.5);
});
</script>
</body></html>
